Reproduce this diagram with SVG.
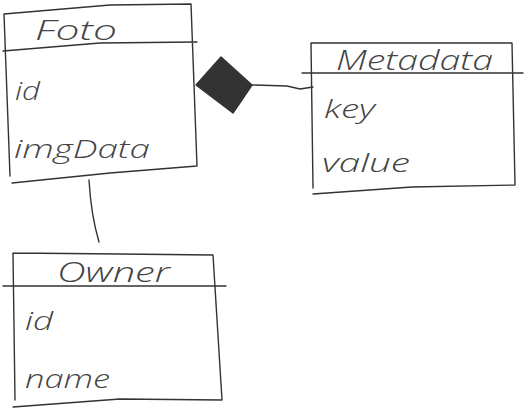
<svg xmlns="http://www.w3.org/2000/svg" width="526" height="412" viewBox="0 0 526 412">
<style>
.ln{fill:none;stroke:#333;stroke-width:1.4;stroke-linecap:round;stroke-linejoin:round}
.t{font-family:"Open Sans","Roboto","DejaVu Sans",sans-serif;font-style:italic;font-weight:300;fill:#444;font-size:26px}
.h{font-size:28px}
</style>
<rect width="526" height="412" fill="#fff"/>
<g id="Foto">
<path class="ln" d="M4,14 L110,5 L191,4 L197,166 L110,173 L12,183 M4,14 L10,176 M3,51 L100,43 L197,42"/>
<text class="t h" x="35" y="40" textLength="82" lengthAdjust="spacingAndGlyphs">Foto</text>
<text class="t" x="15" y="100" textLength="25" lengthAdjust="spacingAndGlyphs">id</text>
<text class="t" x="14" y="158" textLength="136" lengthAdjust="spacingAndGlyphs">imgData</text>
</g>
<g id="Metadata">
<path class="ln" d="M311,43 L420,43 L512,43 L515,185 L412,187 L313,194 M311,43 L313,188 M302,73 L420,73 L523,73"/>
<text class="t h" x="336" y="70" textLength="157" lengthAdjust="spacingAndGlyphs">Metadata</text>
<text class="t" x="324" y="118" textLength="51" lengthAdjust="spacingAndGlyphs">key</text>
<text class="t" x="322" y="172" textLength="88" lengthAdjust="spacingAndGlyphs">value</text>
</g>
<g id="Owner">
<path class="ln" d="M13,253 L120,254 L213,255 L222,400 L120,399 L13,407 M13,253 L15,400 M3,286 L120,286 L226,286"/>
<text class="t h" x="57" y="282" textLength="113" lengthAdjust="spacingAndGlyphs">Owner</text>
<text class="t" x="25" y="330" textLength="28" lengthAdjust="spacingAndGlyphs">id</text>
<text class="t" x="25" y="388" textLength="85" lengthAdjust="spacingAndGlyphs">name</text>
</g>
<g id="connectors">
<path class="ln" d="M252,85 L287,86 L300,89 L313,87"/>
<path d="M196,85 L221,57 L252,85 L233,113 Z" fill="#333" stroke="#333" stroke-width="1.4" stroke-linejoin="round"/>
<path class="ln" d="M89,180 Q91,215 99,242"/>
</g>
</svg>
